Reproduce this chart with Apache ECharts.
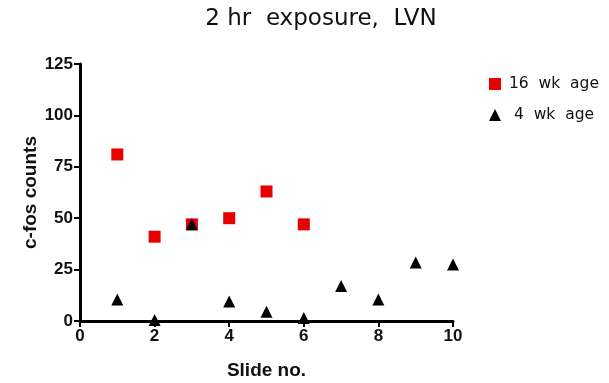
<!DOCTYPE html>
<html>
<head>
<meta charset="utf-8">
<script src="https://cdn.jsdelivr.net/npm/echarts@6/dist/echarts.min.js"></script>
<style>
html, body { margin: 0; padding: 0; background: #fff; }
#chart { width: 609px; height: 383px; }
</style>
</head>
<body>
<div id="chart"></div>
<script>
// slide numbers and counts
var slides16 = [1, 2, 3, 4, 5, 6];
var counts16 = [81, 41, 47, 50, 63, 47];
var slides4 = [1, 2, 3, 4, 5, 6, 7, 8, 9, 10];
var counts4 = [10.5, 0.5, 47, 9.5, 4.5, 1.5, 17, 10.5, 28.5, 27.5];
var yTicks = [0, 25, 50, 75, 100, 125];

function pairs(xs, ys) {
	var out = [];
	for (var i = 0; i < xs.length; i++) {
		out.push([xs[i], ys[i]]);
	}
	return out;
}

var axisFont = 'Liberation Sans, Arial, sans-serif';
var chart = echarts.init(document.getElementById('chart'));
chart.setOption({
	animation: false,
	title: {
		text: '2 hr  exposure,  LVN',
		left: 316,
		top: 3,
		textAlign: 'center',
		textStyle: {
			fontFamily: 'DejaVu Sans, sans-serif',
			fontSize: 23,
			fontWeight: 'normal',
			color: '#111'
		}
	},
	legend: {
		orient: 'vertical',
		left: 484,
		top: 71,
		itemWidth: 12,
		itemHeight: 12,
		itemGap: 15,
		selectedMode: false,
		textStyle: {
			fontFamily: 'DejaVu Sans, sans-serif',
			fontSize: 15.5,
			color: '#111',
			padding: [0, 0, 0, 3]
		},
		data: [
			{ name: '16  wk  age', icon: 'rect' },
			{ name: ' 4  wk  age', icon: 'triangle' }
		]
	},
	grid: {
		left: 80,
		right: 156,
		top: 64,
		bottom: 62,
		outerBoundsMode: 'none'
	},
	xAxis: {
		type: 'value',
		min: 0,
		max: 10,
		interval: 2,
		name: 'Slide no.',
		nameLocation: 'middle',
		nameGap: 40,
		nameTextStyle: { fontFamily: axisFont, fontSize: 19, fontWeight: 'bold', color: '#111' },
		axisLine: { lineStyle: { color: '#000', width: 3 } },
		axisTick: { show: true, length: 6, lineStyle: { color: '#000', width: 2 } },
		axisLabel: { fontFamily: axisFont, fontSize: 17, fontWeight: 'bold', color: '#111', margin: 7 },
		splitLine: { show: false }
	},
	yAxis: {
		type: 'value',
		min: 0,
		max: 125,
		interval: 25,
		name: 'c-fos counts',
		nameLocation: 'middle',
		nameGap: 40,
		nameMoveOverlap: false,
		nameTextStyle: { fontFamily: axisFont, fontSize: 19, fontWeight: 'bold', color: '#111' },
		axisLine: { show: true, lineStyle: { color: '#000', width: 3 } },
		axisTick: { show: true, length: 6, lineStyle: { color: '#000', width: 2 } },
		axisLabel: {
			fontFamily: axisFont, fontSize: 17, fontWeight: 'bold', color: '#111', margin: 7,
			formatter: function (v) { return yTicks.indexOf(v) >= 0 ? String(v) : ''; }
		},
		splitLine: { show: false }
	},
	series: [
		{
			name: '16  wk  age',
			type: 'scatter',
			symbol: 'rect',
			symbolSize: 12,
			itemStyle: { color: '#e60000', opacity: 1 },
			data: pairs(slides16, counts16),
			z: 2
		},
		{
			name: ' 4  wk  age',
			type: 'scatter',
			symbol: 'triangle',
			symbolSize: 12,
			itemStyle: { color: '#000', opacity: 1 },
			data: pairs(slides4, counts4),
			z: 3
		}
	]
});
</script>
</body>
</html>
